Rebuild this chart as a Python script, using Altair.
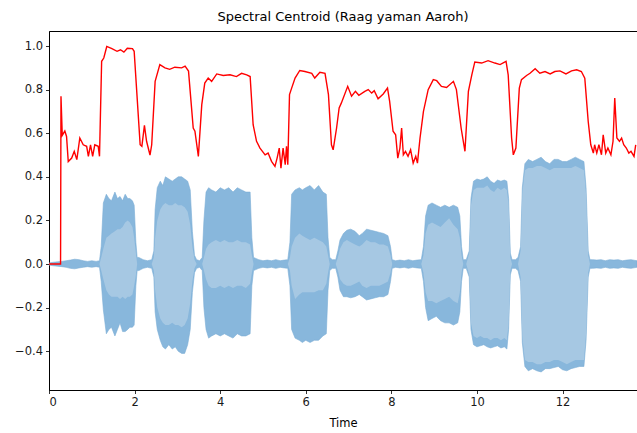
import altair as alt
import pandas as pd

# ---------------- data ----------------
# waveform envelope (time in s, outer max/min, light core max/min)
wave_time = [0.00, 0.10, 0.20, 0.30, 0.40, 0.50, 0.60, 0.70, 0.80, 0.90, 1.00, 1.10, 1.18,
             1.22, 1.27, 1.34, 1.40, 1.46, 1.54, 1.60, 1.66, 1.72, 1.78, 1.84, 1.89, 1.95, 1.99, 2.03, 2.06,
             2.10, 2.20, 2.30, 2.40,
             2.45, 2.48, 2.53, 2.60, 2.66, 2.72, 2.80, 2.88, 2.95, 3.02, 3.10, 3.17, 3.24, 3.30, 3.35, 3.40,
             3.45, 3.52, 3.58,
             3.62, 3.67, 3.73, 3.80, 3.90, 4.00, 4.10, 4.20, 4.30, 4.40, 4.50, 4.60, 4.70, 4.74, 4.78,
             4.90, 5.00, 5.10, 5.20, 5.30, 5.40, 5.50, 5.58,
             5.63, 5.67, 5.75, 5.85, 5.92, 6.00, 6.10, 6.20, 6.30, 6.40, 6.48, 6.52, 6.56,
             6.62, 6.70,
             6.75, 6.80, 6.88, 6.96, 7.05, 7.15, 7.25, 7.32, 7.42, 7.52, 7.62, 7.72, 7.82, 7.92, 7.98, 8.02,
             8.10, 8.20, 8.30, 8.40, 8.50, 8.60, 8.70,
             8.75, 8.80, 8.86, 8.95, 9.05, 9.15, 9.25, 9.35, 9.45, 9.55, 9.60, 9.64, 9.68,
             9.75,
             9.82, 9.86, 9.92, 10.00, 10.08, 10.16, 10.24, 10.32, 10.40, 10.48, 10.56, 10.64, 10.70, 10.74, 10.78, 10.82,
             10.90, 10.96,
             11.02, 11.06, 11.12, 11.20, 11.30, 11.40, 11.50, 11.60, 11.70, 11.80, 11.90, 12.00, 12.10, 12.20, 12.30,
             12.40, 12.50, 12.55, 12.60, 12.64,
             12.70, 12.80, 12.90, 13.00, 13.10, 13.20, 13.30, 13.40, 13.50, 13.60, 13.74]

wave_max = [0.005, 0.008, 0.010, 0.012, 0.015, 0.018, 0.022, 0.020, 0.015, 0.012, 0.015, 0.012, 0.015,
            0.08, 0.28, 0.32, 0.30, 0.29, 0.33, 0.30, 0.31, 0.29, 0.32, 0.30, 0.30, 0.29, 0.27, 0.10, 0.03,
            0.03, 0.02, 0.015, 0.02,
            0.06, 0.25, 0.35, 0.38, 0.36, 0.40, 0.39, 0.38, 0.39, 0.40, 0.40, 0.39, 0.38, 0.34, 0.15, 0.04,
            0.02, 0.015, 0.03,
            0.20, 0.33, 0.35, 0.34, 0.33, 0.35, 0.34, 0.35, 0.33, 0.35, 0.34, 0.33, 0.33, 0.12, 0.03,
            0.02, 0.015, 0.018, 0.015, 0.02, 0.015, 0.018, 0.02,
            0.10, 0.32, 0.34, 0.35, 0.34, 0.35, 0.36, 0.34, 0.36, 0.33, 0.32, 0.12, 0.03,
            0.02, 0.02,
            0.06, 0.11, 0.14, 0.155, 0.16, 0.15, 0.13, 0.14, 0.16, 0.155, 0.15, 0.145, 0.14, 0.13, 0.08, 0.02,
            0.015, 0.018, 0.015, 0.02, 0.015, 0.018, 0.02,
            0.08, 0.22, 0.27, 0.28, 0.27, 0.26, 0.27, 0.26, 0.27, 0.26, 0.22, 0.08, 0.02,
            0.02,
            0.06, 0.30, 0.38, 0.39, 0.385, 0.39, 0.40, 0.38, 0.37, 0.385, 0.38, 0.385, 0.38, 0.30, 0.05, 0.02,
            0.02, 0.03,
            0.08, 0.35, 0.46, 0.48, 0.47, 0.48, 0.49, 0.47, 0.46, 0.48, 0.48, 0.47, 0.47, 0.48, 0.49,
            0.48, 0.47, 0.35, 0.06, 0.02,
            0.02, 0.018, 0.02, 0.015, 0.02, 0.018, 0.02, 0.015, 0.018, 0.02, 0.015]

wave_min = [-0.005, -0.008, -0.010, -0.012, -0.015, -0.020, -0.022, -0.018, -0.015, -0.012, -0.015, -0.012, -0.015,
            -0.08, -0.21, -0.32, -0.30, -0.29, -0.33, -0.30, -0.27, -0.31, -0.31, -0.30, -0.29, -0.29, -0.28, -0.10, -0.03,
            -0.03, -0.02, -0.015, -0.02,
            -0.06, -0.22, -0.30, -0.35, -0.38, -0.39, -0.37, -0.39, -0.38, -0.40, -0.41, -0.41, -0.37, -0.30, -0.13, -0.04,
            -0.02, -0.015, -0.03,
            -0.20, -0.30, -0.34, -0.33, -0.32, -0.33, -0.32, -0.33, -0.34, -0.32, -0.33, -0.33, -0.32, -0.10, -0.03,
            -0.02, -0.015, -0.018, -0.015, -0.02, -0.015, -0.018, -0.02,
            -0.10, -0.30, -0.34, -0.35, -0.36, -0.35, -0.36, -0.35, -0.35, -0.33, -0.32, -0.12, -0.03,
            -0.02, -0.02,
            -0.06, -0.12, -0.15, -0.15, -0.155, -0.15, -0.14, -0.15, -0.165, -0.16, -0.155, -0.15, -0.15, -0.14, -0.08, -0.02,
            -0.015, -0.018, -0.015, -0.02, -0.015, -0.018, -0.02,
            -0.08, -0.20, -0.26, -0.25, -0.24, -0.26, -0.27, -0.27, -0.28, -0.27, -0.22, -0.08, -0.02,
            -0.02,
            -0.06, -0.30, -0.37, -0.38, -0.375, -0.37, -0.38, -0.385, -0.38, -0.375, -0.385, -0.38, -0.39, -0.30, -0.05, -0.02,
            -0.02, -0.03,
            -0.08, -0.36, -0.47, -0.49, -0.48, -0.49, -0.495, -0.48, -0.48, -0.475, -0.47, -0.485, -0.49, -0.48, -0.475,
            -0.47, -0.47, -0.35, -0.06, -0.02,
            -0.02, -0.018, -0.02, -0.015, -0.02, -0.018, -0.02, -0.015, -0.018, -0.02, -0.015]

core_max = [0, 0, 0, 0, 0, 0, 0, 0, 0, 0, 0, 0, 0,
            0.03, 0.07, 0.12, 0.13, 0.14, 0.15, 0.16, 0.16, 0.17, 0.19, 0.20, 0.19, 0.17, 0.12, 0.05, 0,
            0, 0, 0, 0,
            0.03, 0.12, 0.20, 0.25, 0.27, 0.28, 0.27, 0.27, 0.28, 0.27, 0.27, 0.26, 0.24, 0.18, 0.08, 0.02,
            0, 0, 0,
            0.03, 0.07, 0.09, 0.10, 0.11, 0.10, 0.11, 0.10, 0.10, 0.11, 0.10, 0.10, 0.09, 0.04, 0,
            0, 0, 0, 0, 0, 0, 0, 0,
            0.03, 0.08, 0.12, 0.14, 0.13, 0.12, 0.11, 0.12, 0.11, 0.10, 0.08, 0.04, 0,
            0, 0,
            0.03, 0.07, 0.10, 0.11, 0.10, 0.09, 0.08, 0.09, 0.11, 0.10, 0.10, 0.09, 0.09, 0.08, 0.04, 0,
            0, 0, 0, 0, 0, 0, 0,
            0.04, 0.14, 0.18, 0.19, 0.18, 0.17, 0.19, 0.21, 0.18, 0.16, 0.12, 0.04, 0,
            0,
            0.05, 0.27, 0.34, 0.35, 0.35, 0.35, 0.36, 0.34, 0.33, 0.35, 0.34, 0.35, 0.34, 0.27, 0.03, 0,
            0, 0,
            0.06, 0.32, 0.43, 0.44, 0.44, 0.45, 0.45, 0.44, 0.43, 0.44, 0.44, 0.44, 0.44, 0.44, 0.45,
            0.44, 0.43, 0.32, 0.04, 0,
            0, 0, 0, 0, 0, 0, 0, 0, 0, 0, 0]

core_min = [0, 0, 0, 0, 0, 0, 0, 0, 0, 0, 0, 0, 0,
            -0.03, -0.07, -0.12, -0.14, -0.15, -0.15, -0.15, -0.16, -0.15, -0.16, -0.15, -0.15, -0.14, -0.10, -0.05, 0,
            0, 0, 0, 0,
            -0.03, -0.12, -0.20, -0.25, -0.27, -0.28, -0.28, -0.27, -0.28, -0.28, -0.29, -0.28, -0.25, -0.18, -0.08, -0.02,
            0, 0, 0,
            -0.03, -0.07, -0.10, -0.11, -0.11, -0.10, -0.11, -0.10, -0.11, -0.10, -0.10, -0.11, -0.09, -0.04, 0,
            0, 0, 0, 0, 0, 0, 0, 0,
            -0.03, -0.10, -0.16, -0.14, -0.13, -0.13, -0.13, -0.13, -0.12, -0.12, -0.09, -0.04, 0,
            0, 0,
            -0.03, -0.07, -0.09, -0.10, -0.10, -0.09, -0.08, -0.10, -0.11, -0.10, -0.10, -0.10, -0.09, -0.08, -0.04, 0,
            0, 0, 0, 0, 0, 0, 0,
            -0.04, -0.13, -0.17, -0.17, -0.18, -0.17, -0.16, -0.15, -0.17, -0.18, -0.13, -0.04, 0,
            0,
            -0.05, -0.27, -0.33, -0.34, -0.33, -0.34, -0.34, -0.35, -0.34, -0.34, -0.35, -0.34, -0.35, -0.27, -0.03, 0,
            0, 0,
            -0.06, -0.33, -0.44, -0.45, -0.45, -0.46, -0.46, -0.45, -0.45, -0.44, -0.44, -0.45, -0.46, -0.45, -0.44,
            -0.44, -0.44, -0.32, -0.04, 0,
            0, 0, 0, 0, 0, 0, 0, 0, 0, 0, 0]

# normalised spectral centroid
centroid_time = [0.00, 0.27, 0.28, 0.31, 0.37, 0.41, 0.45, 0.53, 0.59, 0.65, 0.72, 0.80, 0.88, 0.92, 0.97,
                 1.02, 1.07, 1.15, 1.18, 1.23, 1.28, 1.35, 1.47, 1.59, 1.67, 1.75, 1.83, 1.95, 1.99,
                 2.13, 2.17, 2.23, 2.28, 2.36, 2.40, 2.48, 2.59, 2.71, 2.82, 2.94, 3.10, 3.18, 3.26,
                 3.37, 3.41, 3.49, 3.57, 3.64, 3.72, 3.80, 3.92, 4.07, 4.23, 4.38, 4.50, 4.62, 4.70,
                 4.77, 4.85, 4.93, 5.05, 5.12, 5.20, 5.28, 5.33, 5.38, 5.42, 5.47, 5.52, 5.55, 5.58,
                 5.62, 5.67, 5.75, 5.86, 5.98, 6.14, 6.21, 6.33, 6.45, 6.53, 6.60, 6.64, 6.72, 6.78,
                 6.83, 6.98, 7.07, 7.16, 7.24, 7.38, 7.46, 7.54, 7.60, 7.69, 7.81, 7.91, 7.96,
                 8.04, 8.10, 8.15, 8.20, 8.24, 8.28, 8.33, 8.39, 8.45, 8.51, 8.57, 8.61, 8.67,
                 8.75, 8.86, 8.98, 9.06, 9.17, 9.29, 9.45, 9.52, 9.63, 9.72, 9.80, 9.88, 9.95,
                 10.11, 10.26, 10.42, 10.54, 10.68, 10.73, 10.81, 10.85, 10.91, 10.99, 11.04, 11.16,
                 11.24, 11.36, 11.47, 11.59, 11.71, 11.82, 11.94, 12.08, 12.21, 12.33, 12.44, 12.52,
                 12.60, 12.66, 12.72, 12.75, 12.80, 12.85, 12.91, 12.95, 13.01, 13.06, 13.13, 13.18,
                 13.22, 13.27, 13.33, 13.38, 13.43, 13.49, 13.55, 13.60, 13.67, 13.71]

centroid_value = [0.0, 0.0, 0.77, 0.59, 0.61, 0.585, 0.47, 0.486, 0.517, 0.479, 0.578, 0.547, 0.54, 0.494, 0.547,
                  0.494, 0.547, 0.54, 0.494, 0.93, 0.945, 0.998, 0.988, 0.976, 0.983, 0.972, 0.99, 0.988, 0.976,
                  0.547, 0.54, 0.636, 0.563, 0.50, 0.547, 0.838, 0.915, 0.90, 0.893, 0.903, 0.90, 0.908, 0.885,
                  0.624, 0.609, 0.494, 0.731, 0.83, 0.853, 0.838, 0.872, 0.865, 0.868, 0.86, 0.875, 0.868, 0.86,
                  0.639, 0.563, 0.532, 0.501, 0.509, 0.471, 0.448, 0.486, 0.532, 0.44, 0.532, 0.456, 0.54, 0.456,
                  0.777, 0.807, 0.853, 0.888, 0.883, 0.875, 0.853, 0.88, 0.875, 0.777, 0.547, 0.524, 0.624, 0.716,
                  0.738, 0.815, 0.77, 0.792, 0.774, 0.792, 0.80, 0.784, 0.795, 0.758, 0.78, 0.807, 0.746,
                  0.609, 0.593, 0.486, 0.532, 0.624, 0.501, 0.517, 0.494, 0.524, 0.463, 0.494, 0.463, 0.578,
                  0.70, 0.80, 0.846, 0.841, 0.815, 0.81, 0.838, 0.80, 0.624, 0.517, 0.792, 0.868, 0.927,
                  0.922, 0.933, 0.922, 0.915, 0.93, 0.868, 0.578, 0.501, 0.532, 0.807, 0.846, 0.865,
                  0.875, 0.896, 0.875, 0.883, 0.872, 0.883, 0.886, 0.872, 0.886, 0.891, 0.883, 0.853,
                  0.654, 0.547, 0.509, 0.547, 0.509, 0.547, 0.501, 0.593, 0.509, 0.532, 0.501, 0.563,
                  0.761, 0.578, 0.563, 0.578, 0.547, 0.532, 0.509, 0.517, 0.494, 0.547]

x_ticks = [0, 2, 4, 6, 8, 10, 12]
y_ticks = [-0.4, -0.2, 0.0, 0.2, 0.4, 0.6, 0.8, 1.0]

# ---------------- chart ----------------
wave = pd.DataFrame({"t": wave_time, "top": wave_max, "bot": wave_min,
                     "ctop": core_max, "cbot": core_min})
cent = pd.DataFrame({"t": centroid_time, "v": centroid_value})

xscale = alt.Scale(domain=[0, 13.74], nice=False, zero=False)
yscale = alt.Scale(domain=[-0.578, 1.069], nice=False, zero=False)

xaxis = alt.Axis(title="Time", values=x_ticks, format="d", grid=False,
                 titleFontWeight="normal", titlePadding=9)
yaxis = alt.Axis(title=None, values=y_ticks, format=".1f", grid=False)

outer = alt.Chart(wave).mark_area(color="#88b7dc", stroke="#7aadd5", strokeWidth=0.6,
                                  clip=True).encode(
    x=alt.X("t:Q", scale=xscale, axis=xaxis),
    y=alt.Y("top:Q", scale=yscale, axis=yaxis),
    y2="bot:Q",
)
inner = alt.Chart(wave).mark_area(color="#a6c8e3", clip=True).encode(
    x=alt.X("t:Q", scale=xscale),
    y=alt.Y("ctop:Q", scale=yscale),
    y2="cbot:Q",
)
line = alt.Chart(cent).mark_line(color="#ff0000", strokeWidth=1.4, clip=True).encode(
    x=alt.X("t:Q", scale=xscale),
    y=alt.Y("v:Q", scale=yscale),
)

chart = alt.layer(outer, inner, line).properties(
    width=588, height=359,
    background="white",
    title=alt.TitleParams("Spectral Centroid (Raag yaman Aaroh)", fontSize=13,
                          font="DejaVu Sans", fontWeight="normal", color="#000000",
                          anchor="middle", offset=7),
    autosize=alt.AutoSizeParams(type="none"),
    padding={"left": 49, "top": 31, "right": 0, "bottom": 43},
).configure_view(
    stroke="#000000", strokeWidth=1
).configure_axis(
    labelFont="DejaVu Sans", labelFontSize=11.5, labelColor="#1a1a1a",
    titleFont="DejaVu Sans", titleFontSize=11.5, titleFontWeight="normal", titleColor="#000000",
    tickColor="#000000", tickSize=3.5, tickWidth=0.8, domainColor="#000000", domainWidth=0.8,
    labelPadding=3,
)

chart.save("out.html", embed_options={"renderer": "svg", "actions": False})
